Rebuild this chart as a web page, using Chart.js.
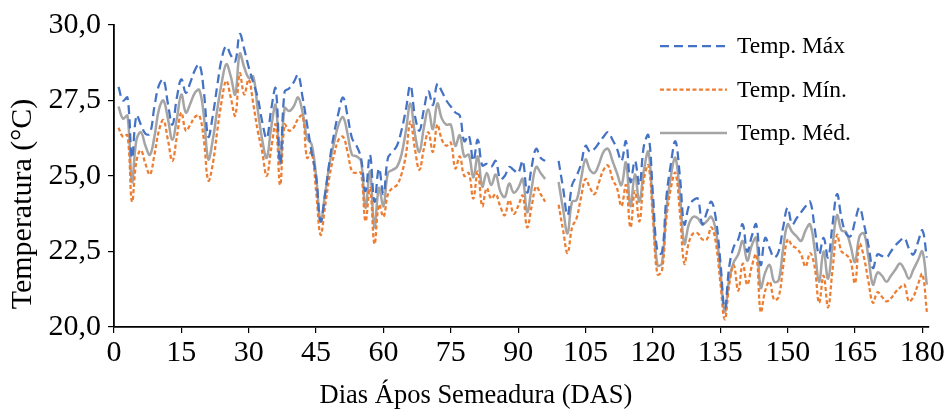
<!DOCTYPE html>
<html>
<head>
<meta charset="utf-8">
<script src="https://cdn.jsdelivr.net/npm/chart.js@4.4.1/dist/chart.umd.min.js"></script>
<style>
  html, body { margin: 0; padding: 0; background: #fff; }
  #kutu { width: 947px; height: 410px; }
</style>
</head>
<body>
<div id="kutu"><canvas id="grafik"></canvas></div>
<script>
// Temperaturas diárias (°C), dia 1 a 181 após semeadura; dias 97-98 sem dado
const tempMax = [
  27.95, 27.5, 27.6, 25.6, 27.0, 26.7, 26.4, 26.4, 27.3, 28.0,
  28.2, 27.4, 26.7, 27.6, 28.2, 27.75, 28.1, 28.5, 28.7, 27.8,
  26.3, 27.0, 28.0, 28.9, 29.3, 29.0, 28.8, 29.7, 29.2, 28.6,
  28.1, 27.6, 26.8, 26.25, 27.2, 27.9, 25.4, 27.8, 27.9, 28.1,
  28.35, 27.6, 26.7, 25.8, 25.0, 23.5, 24.4, 25.5, 26.4, 27.1,
  27.6, 27.0, 26.25, 26.0, 25.6, 24.5, 25.7, 24.15, 25.25, 24.4,
  25.6, 25.8, 26.0, 26.5, 27.2, 28.0, 27.0, 26.5, 27.2, 27.8,
  27.35, 28.05, 27.8, 27.5, 27.3, 27.1, 27.0, 26.15, 26.35, 25.5,
  26.2, 25.35, 25.4, 25.3, 25.5, 24.9, 25.0, 25.3, 25.2, 25.1,
  25.5, 24.45, 25.3, 25.9, 25.6, 25.5, null, null, 25.5, 24.6,
  23.7, 24.7, 25.0, 25.4, 26.0, 25.8, 25.9, 26.1, 26.3, 26.45,
  26.2, 25.9, 25.5, 26.15, 24.8, 25.5, 24.7, 26.0, 26.35, 24.4,
  22.5, 22.45, 24.3, 25.4, 26.15, 25.0, 23.4, 24.0, 24.2, 24.25,
  23.4, 23.8, 24.15, 23.6, 22.2, 20.6, 22.0, 22.65, 22.9, 23.4,
  22.5, 23.0, 23.4, 22.05, 22.95, 22.6, 22.3, 22.5, 23.3, 23.95,
  23.4, 23.6, 23.8, 24.0, 24.15, 23.3, 22.4, 22.95, 22.3, 23.4,
  24.4, 23.6, 23.1, 23.0, 23.5, 23.95, 23.4, 22.7, 21.95, 22.4,
  22.35, 22.3, 22.5, 22.7, 22.85, 22.95, 22.6, 22.4, 22.8, 23.2,
  22.3
];

const tempMin = [
  26.6, 26.3, 26.35, 24.15, 25.5, 25.85, 25.4, 25.05, 25.7, 26.5,
  26.85, 26.2, 25.5, 26.3, 27.1, 26.5, 26.7, 26.95, 27.0, 26.2,
  24.85, 25.4, 26.5, 27.5, 28.15, 27.6, 27.0, 28.4, 27.7, 28.2,
  27.4, 26.5, 25.8, 25.0, 25.9, 26.7, 24.7, 26.7, 26.5, 26.6,
  26.9, 27.0, 25.6, 25.8, 24.5, 23.05, 24.0, 25.0, 25.7, 26.2,
  26.3, 25.8, 25.15, 25.1, 25.1, 23.5, 24.6, 22.75, 24.05, 23.65,
  24.4, 24.6, 24.7, 25.05, 25.7, 26.8, 25.9, 25.2, 25.9, 26.45,
  25.8, 26.7, 26.2, 26.0, 26.1, 25.25, 25.65, 25.0, 25.1, 24.25,
  25.15, 24.0, 24.6, 24.25, 24.4, 24.0, 23.7, 24.2, 23.75, 24.0,
  24.35, 23.3, 24.0, 24.65, 24.4, 24.15, null, null, 24.05, 23.2,
  22.45, 23.3, 23.6, 24.3, 24.9, 24.6, 24.4, 24.8, 25.2, 25.35,
  24.9, 24.6, 24.0, 24.7, 23.3, 24.5, 23.5, 24.9, 25.35, 23.6,
  21.75, 21.85, 23.6, 24.6, 25.1, 23.8, 22.1, 22.8, 23.1, 23.1,
  22.9, 22.9, 23.3, 22.8, 21.5, 20.25, 21.4, 22.05, 21.2, 22.1,
  21.4, 22.0, 22.4, 20.5, 21.2, 21.5, 20.9, 21.0, 22.0, 22.9,
  22.7, 22.6, 22.4, 22.0, 22.45, 22.0, 20.8, 21.7, 20.65, 21.9,
  23.05, 22.5, 22.4, 22.2, 21.45, 22.75, 22.3, 21.5, 20.8, 21.15,
  21.0, 20.85, 20.95, 21.15, 21.3, 21.4, 20.85, 21.0, 21.4, 21.75,
  20.5
];

const tempMed = [
  27.3, 26.9, 27.0, 24.8, 26.2, 26.45, 26.0, 25.7, 26.3, 27.2,
  27.5, 26.9, 26.2, 26.9, 27.7, 27.1, 27.4, 27.75, 27.85, 27.0,
  25.55, 26.2, 27.2, 28.1, 28.7, 28.3, 27.7, 29.05, 28.6, 28.25,
  28.3, 27.2, 26.2, 25.6, 26.6, 27.35, 25.4, 27.25, 27.15, 27.3,
  27.6, 27.1, 26.25, 26.05, 25.0, 23.5, 24.4, 25.4, 26.1, 26.7,
  26.95, 26.4, 25.7, 25.65, 25.5, 23.95, 25.15, 23.3, 24.6, 24.0,
  25.1, 25.2, 25.3, 25.7, 26.5, 27.4, 26.4, 25.8, 26.6, 27.2,
  26.55, 27.4, 26.9, 26.7, 26.7, 26.0, 26.35, 25.65, 25.7, 24.95,
  25.65, 24.65, 25.1, 24.7, 25.05, 24.5, 24.3, 24.75, 24.45, 24.6,
  24.9, 23.8, 24.6, 25.3, 25.1, 24.9, null, null, 24.8, 23.9,
  23.1, 24.15, 24.2, 24.9, 25.55, 25.2, 25.1, 25.4, 25.8, 25.9,
  25.5, 25.1, 24.7, 25.45, 24.0, 25.05, 24.15, 25.2, 25.8, 23.9,
  22.05, 22.1, 23.9, 25.0, 25.6, 24.4, 22.75, 23.4, 23.65, 23.6,
  23.4, 23.5, 23.65, 23.2, 21.9, 20.5, 21.6, 22.15, 22.4, 22.85,
  22.2, 22.7, 22.95, 21.3, 21.8, 22.05, 21.5, 21.55, 22.6, 23.4,
  23.15, 23.0, 22.85, 23.2, 23.4, 22.6, 21.5, 22.5, 21.6, 22.7,
  23.7, 23.2, 23.15, 22.7, 22.15, 23.0, 23.1, 22.3, 21.4, 21.8,
  21.7, 21.5, 21.7, 21.9, 22.1, 21.9, 21.6, 21.9, 22.2, 22.5,
  21.4
];

// Dias após semeadura (eixo x)
const primeiroDia = 1;
const dias = tempMed.map((_, i) => primeiroDia + i);

// Rótulos dos eixos
const xTicks = [0, 15, 30, 45, 60, 75, 90, 105, 120, 135, 150, 165, 180];
const yTicks = [20, 22.5, 25, 27.5, 30];
const tituloX = "Dias Ápos Semeadura (DAS)";
const tituloY = "Temperatura (°C)";

const familia = "'Liberation Serif', 'Times New Roman', serif";
const fonteTicks = { family: familia, size: 30 };

function serie(valores) {
  return dias.map((d, i) => ({ x: d, y: valores[i] }));
}

// Títulos dos eixos e legenda desenhados à mão (posições do original)
const textosPlugin = {
  id: "textos",
  afterDraw(chart) {
    const ctx = chart.ctx;
    ctx.save();
    ctx.fillStyle = "#000";
    ctx.textAlign = "center";
    ctx.textBaseline = "middle";

    ctx.font = "26.5px " + familia;
    ctx.fillText(tituloX, 476, 396);

    ctx.save();
    ctx.translate(23, 204);
    ctx.rotate(-Math.PI / 2);
    ctx.font = "30px " + familia;
    ctx.fillText(tituloY, 0, 0);
    ctx.restore();

    ctx.textAlign = "left";
    chart.data.datasets.forEach((ds, i) => {
      const y = 46 + i * 43.5;
      ctx.strokeStyle = ds.borderColor;
      ctx.lineWidth = ds.borderWidth;
      ctx.setLineDash(ds.borderDash || []);
      ctx.beginPath();
      ctx.moveTo(660, y);
      ctx.lineTo(727, y);
      ctx.stroke();
      ctx.setLineDash([]);
      ctx.font = "23.5px " + familia;
      ctx.fillText(ds.label, 737, y + 1);
    });
    ctx.restore();
  },
};

const ctx = document.getElementById("grafik").getContext("2d");

new Chart(ctx, {
  type: "line",
  data: {
    datasets: [
      {
        label: "Temp. Máx",
        data: serie(tempMax),
        borderColor: "#4472C4",
        borderWidth: 2.25,
        borderDash: [9, 5],
      },
      {
        label: "Temp. Mín.",
        data: serie(tempMin),
        borderColor: "#ED7D31",
        borderWidth: 2.25,
        borderDash: [4, 2.5],
      },
      {
        label: "Temp. Méd.",
        data: serie(tempMed),
        borderColor: "#A5A5A5",
        borderWidth: 2.5,
      },
    ],
  },
  options: {
    responsive: true,
    maintainAspectRatio: false,
    animation: false,
    spanGaps: false,
    layout: { padding: { top: 24, right: 17, left: 0, bottom: 0 } },
    elements: {
      point: { radius: 0 },
      line: { tension: 0.4, fill: false },
    },
    plugins: {
      legend: { display: false },
      tooltip: { enabled: false },
    },
    scales: {
      x: {
        type: "linear",
        min: 0,
        max: 181.5,
        afterBuildTicks: (scale) => {
          scale.ticks = xTicks.map((v) => ({ value: v }));
        },
        afterFit: (scale) => {
          scale.height = 83;
        },
        grid: { drawOnChartArea: false, drawTicks: true, tickLength: 6, color: "#000", lineWidth: 1.2 },
        border: { display: true, color: "#000", width: 1.8 },
        ticks: {
          font: fonteTicks,
          color: "#000",
          padding: 2,
          maxRotation: 0,
          autoSkip: false,
          callback: (v) => String(v),
        },
      },
      y: {
        min: 20,
        max: 30,
        afterBuildTicks: (scale) => {
          scale.ticks = yTicks.map((v) => ({ value: v }));
        },
        afterFit: (scale) => {
          scale.width = 114;
        },
        grid: { drawOnChartArea: false, drawTicks: true, tickLength: 6, color: "#000", lineWidth: 1.2 },
        border: { display: true, color: "#000", width: 1.8 },
        ticks: {
          font: fonteTicks,
          color: "#000",
          padding: 7,
          callback: (v) => v.toFixed(1).replace(".", ","),
        },
      },
    },
  },
  plugins: [textosPlugin],
});
</script>
</body>
</html>
